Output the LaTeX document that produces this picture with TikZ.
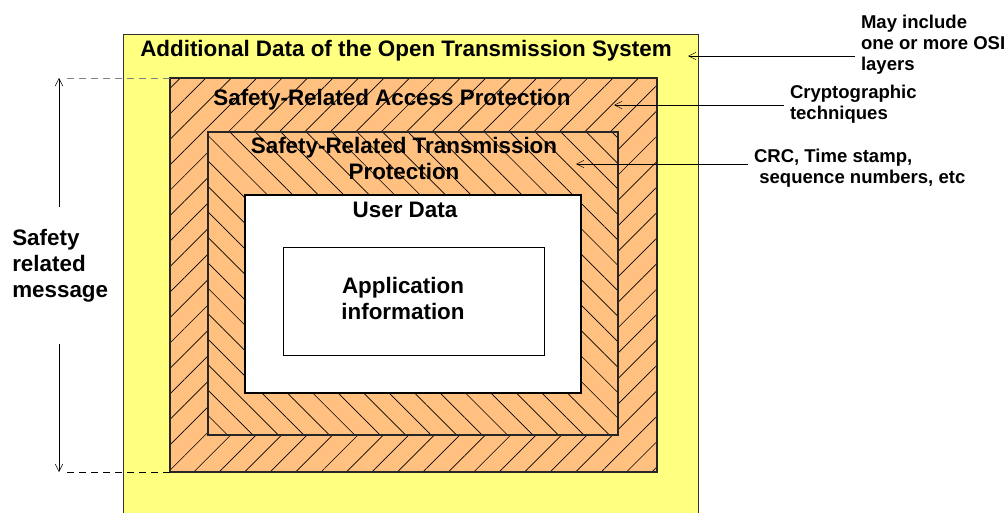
\documentclass[tikz,border=0pt]{standalone}
\usepackage{fontspec}
\setmainfont{Liberation Sans}
\usepackage{tikz}
\usetikzlibrary{patterns.meta,arrows.meta,positioning,calc}
\definecolor{boxyellow}{RGB}{255,255,128}
\definecolor{boxorange}{RGB}{255,192,128}

\begin{document}
\begin{tikzpicture}[x=0.75pt,y=-0.75pt,
                >={Straight Barb[length=5.5pt,width=5.5pt]},
                bigtext/.style={font=\fontsize{16.8}{19.5}\selectfont\bfseries, align=center, inner sep=0pt},
                sidetext/.style={font=\fontsize{13.9}{16}\selectfont\bfseries, align=left, inner sep=0pt, outer xsep=4.5pt, anchor=base west},
                accessbox/.style={draw=black!85, line width=0.8pt, preaction={fill=boxorange}, pattern={Lines[angle=45,distance=13.5pt,line width=0.5pt]}, pattern color=black},
                transbox/.style={draw=black!85, line width=0.8pt, preaction={fill=boxorange}, pattern={Lines[angle=-45,distance=13.5pt,line width=0.5pt]}, pattern color=black},
                databox/.style={draw=black, fill=white, line width=1.1pt},
                appbox/.style={draw=black, fill=white, line width=0.75pt},
            ]
            \useasboundingbox (0,0) rectangle (1006,513);
            %Boxes
            \fill[boxyellow] (123,35) rectangle (698,520);
            \draw[black!80, line width=0.75pt] (123,520) -- (123,35) -- (698,35) -- (698,520);
            \draw[accessbox] (170,78) coordinate (accnw) rectangle (657,472) coordinate (accse);
            \draw[transbox]  (208,132) coordinate (transnw) rectangle (618,435);
            \draw[databox]   (245,195) rectangle (581,393);
            \draw[appbox]    (283,248) rectangle (544,355);

            %Nodes (multi-line nodes sit on their last baseline)
            \node[bigtext, anchor=base] (systitle)    at (406,57)  {Additional Data of the Open Transmission System};
            \node[bigtext, anchor=base] (accesstitle) at (392,106) {Safety-Related Access Protection};
            \node[bigtext, anchor=base] (transtitle)  at (404,180) {Safety-Related Transmission\\Protection};
            \node[bigtext, anchor=base] (userdata)    at (405,218) {User Data};
            \node[bigtext, anchor=base] (appinfo)     at (403,319) {Application\\information};
            \node[bigtext, align=left, anchor=base west] (msglabel) at (12,297) {Safety\\related\\message};
            \node[sidetext] (osilabel)    at (855,71)  {May include\\one or more OSI\\layers};
            \node[sidetext] (cryptolabel) at (784,120) {Cryptographic\\techniques};
            \node[sidetext] (crclabel)    at (748,184) {CRC, Time stamp,\\\hspace*{4pt}sequence numbers, etc};

            \coordinate (ositip)    at (688,56);
            \coordinate (cryptotip) at (614,105);
            \coordinate (crctip)    at (576,164);
            \coordinate (msgtop)    at (59,78);
            \coordinate (msgbot)    at (59,472);

            %Lines
            \draw[->] (osilabel.west |- ositip) -- (ositip);
            \draw[->] (cryptolabel.west |- cryptotip) -- (cryptotip);
            \draw[->] (crclabel.west |- crctip) -- (crctip);
            \draw[->] ($(msglabel.north -| msgtop)+(0,-22)$) -- (msgtop);
            \draw[->] ($(msglabel.south -| msgbot)+(0,42)$) -- (msgbot);
            \draw[gray, dash pattern=on 5pt off 4pt] ($(msgtop)+(8,0)$) -- (accnw);
            \draw[black, dash pattern=on 5pt off 4pt] ($(msgbot)+(8,0)$) -- (accnw |- accse);
        \end{tikzpicture}
\end{document}
